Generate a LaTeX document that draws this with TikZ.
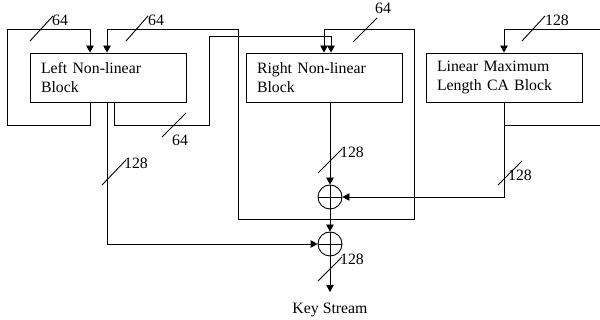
\documentclass[tikz,border=0pt]{standalone}
\usepackage{fontspec}
\setmainfont{Liberation Serif}
\usetikzlibrary{arrows.meta}
\begin{document}
\begin{tikzpicture}[x=1pt,y=-1pt,
  font=\fontsize{15.8}{19}\selectfont,
  ln/.style={line width=0.9pt,draw=black},
  arr/.style={ln,-{Triangle[length=7pt,width=7.5pt]}},
  blk/.style={draw,line width=0.9pt,minimum width=156pt,minimum height=49pt,
    text width=134pt,align=left,inner xsep=11pt,inner ysep=0pt},
  xorn/.style={circle,draw,line width=0.9pt,minimum size=24pt,inner sep=0pt,
    path picture={\draw[line width=0.9pt] (path picture bounding box.north) -- (path picture bounding box.south)
      (path picture bounding box.west) -- (path picture bounding box.east);}},
  lbl/.style={inner sep=0pt}]
\useasboundingbox (0,0) rectangle (600,320);

\node[blk] (L) at (108,77.5) {Left Non-linear\\Block};
\node[blk] (R) at (324,77.5) {Right Non-linear\\Block};
\node[blk] (C) at (504,77.5) {Linear Maximum\\Length CA Block};

\node[xorn] (X1) at (330,197) {};
\node[xorn] (X2) at (330,244) {};
\node[lbl,anchor=north] (KS) at (330,303) {Key Stream};

\coordinate (J) at (330,219);
\coordinate (E1) at (600,29);
\coordinate (E2) at (600,125);

% left self loop
\draw[arr] ([xshift=-18pt]L.south) -- (90,125) -- (7,125) -- (7,29) -- (90,29) -- ([xshift=-18pt]L.north);
% feedback from XOR1 output
\draw[arr] (J) -- (238,219) -- (238,29) -- (107,29) -- ([xshift=-1pt]L.north);
\draw[arr] (J) -- (414,219) -- (414,29) -- (324,29) -- (R.north);
% left to right
\draw[arr] ([xshift=6pt]L.south) -- (114,125) -- (209,125) -- (209,36) -- (331,36) -- ([xshift=7pt]R.north);
% linear block
\draw[arr] (E1) -- (504,29) -- (C.north);
\draw[ln] (C.south) |- (E2);
\draw[arr] (C.south) |- (X1.east);
% right to xor1
\draw[arr] ([xshift=6pt]R.south) -- (X1.north);
\draw[arr] (X1.south) -- (X2.north);
% left output to xor2
\draw[arr] ([xshift=-1pt]L.south) |- (X2.west);
% key stream
\draw[arr] (X2.south) -- ([yshift=11pt]KS.north);

% bus width marks
\draw[ln] (30,41) -- (53,16);   \node[lbl] (t1) at (60,20) {64};
\draw[ln] (126,41) -- (148,16); \node[lbl] (t2) at (156,20) {64};
\draw[ln] (162,137) -- (186,113); \node[lbl] (t3) at (180,140) {64};
\draw[ln] (353,42) -- (377,18); \node[lbl] (t4) at (383,8) {64};
\draw[ln] (522,41) -- (545,16); \node[lbl] (t5) at (557,20) {128};
\draw[ln] (498,185) -- (522,161); \node[lbl] (t6) at (520,175) {128};
\draw[ln] (102,185) -- (126,160); \node[lbl] (t7) at (136,163) {128};
\draw[ln] (318,173) -- (342,149); \node[lbl] (t8) at (352,152) {128};
\draw[ln] (318,281) -- (342,257); \node[lbl] (t9) at (352,259) {128};
\end{tikzpicture}
\end{document}
